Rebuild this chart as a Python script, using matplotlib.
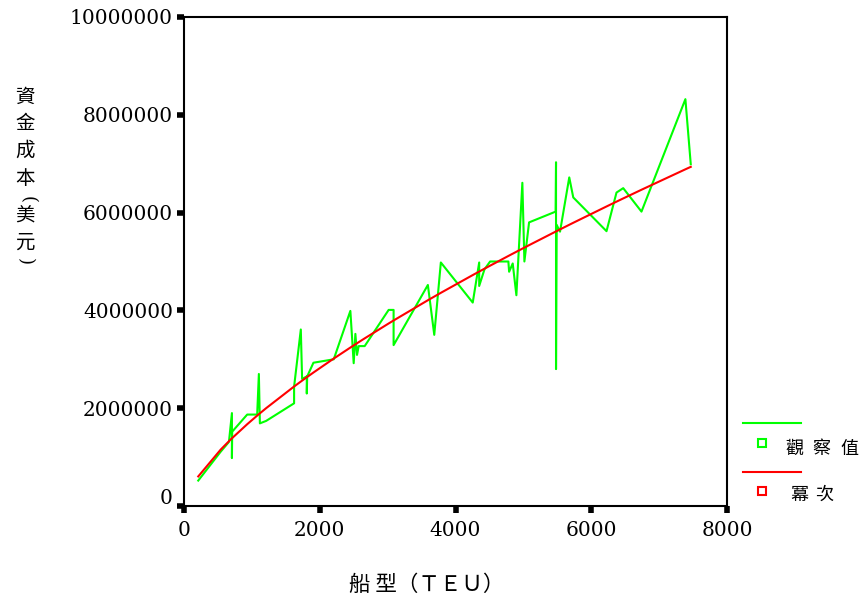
import numpy as np
import matplotlib
matplotlib.use("Agg")
import matplotlib.pyplot as plt
from matplotlib.lines import Line2D
from matplotlib.transforms import ScaledTranslation

TEU = [210, 540, 662, 706, 706, 710, 931, 1078, 1103, 1118, 1210, 1622, 1622,
       1721, 1740, 1809, 1809, 1815, 1907, 2206, 2451, 2500, 2525, 2549, 2574,
       2662, 3015, 3088, 3088, 3593, 3687, 3784, 4254, 4349, 4349, 4427, 4510,
       4779, 4790, 4843, 4897, 4985, 5015, 5084, 5475, 5481, 5481, 5490, 5540,
       5676, 5735, 6225, 6372, 6471, 6740, 7387, 7466]
COST = [520000, 1110000, 1310000, 1900000, 980000, 1520000, 1870000, 1870000,
        2700000, 1690000, 1740000, 2100000, 2440000, 3610000, 2600000, 2650000,
        2300000, 2650000, 2930000, 3000000, 3990000, 2920000, 3520000, 3090000,
        3270000, 3270000, 4010000, 4010000, 3290000, 4520000, 3500000, 4980000,
        4160000, 4980000, 4500000, 4840000, 5000000, 5000000, 4790000, 4960000,
        4310000, 6610000, 5000000, 5800000, 6020000, 7030000, 2800000, 5750000,
        5610000, 6720000, 6310000, 5620000, 6410000, 6500000, 6020000, 8320000,
        6990000]

X_TICKS = [0, 2000, 4000, 6000, 8000]
Y_TICKS = [0, 2000000, 4000000, 6000000, 8000000, 10000000]
Y_LABELS = ["0", "2000000", "4000000", "6000000", "8000000", "10000000"]

CJK = ["Noto Sans CJK TC", "DejaVu Sans"]
NUM = "DejaVu Serif"
GREEN = "#00FF00"
RED = "#FF0000"

x = np.array(TEU, dtype=float)
y = np.array(COST, dtype=float)
# power model fit (ln y = ln a + b ln x)
b, ln_a = np.polyfit(np.log(x), np.log(y), 1)
fit = np.exp(ln_a) * x ** b

W, H = 861, 605
fig = plt.figure(figsize=(W / 100, H / 100), dpi=100)
fig.patch.set_facecolor("white")
ax = fig.add_axes([184 / W, 99 / H, 543 / W, 489 / H])

ax.plot(x, y, color=GREEN, lw=1.5, zorder=3)
ax.plot(x, fit, color=RED, lw=1.5, zorder=4)

ax.set_xlim(0, 8000)
ax.set_ylim(0, 10000000)
ax.set_xticks(X_TICKS)
ax.set_xticklabels([str(t) for t in X_TICKS], fontfamily=NUM, fontsize=14.5)
ax.set_yticks(Y_TICKS)
ax.set_yticklabels(Y_LABELS, fontfamily=NUM, fontsize=14.5)
ax.tick_params(axis="both", direction="out", length=5, width=4, color="black")
ax.tick_params(axis="x", pad=6)
ax.tick_params(axis="y", pad=3)
for s in ax.spines.values():
    s.set_linewidth(1.5)
    s.set_color("black")

# the "0" on the y axis sits a little above its tick in the original
lab0 = ax.get_yticklabels()[0]
lab0.set_transform(lab0.get_transform()
                   + ScaledTranslation(0, 9 / 100, fig.dpi_scale_trans))

# stacked vertical y label
ychars = ["資", "金", "成", "本", "美", "元"]
ypos = [97, 123, 150, 178, 216, 242]
for ch, py in zip(ychars, ypos):
    fig.text(25 / W, 1 - py / H, ch, ha="center", va="center",
             fontsize=14, family=CJK)
# rotated brackets (vertical text style)
fig.text(28 / W, 1 - 199 / H, "(", ha="center", va="center",
         fontsize=13, family=NUM, rotation=-90)
fig.text(25 / W, 1 - 262 / H, ")", ha="center", va="center",
         fontsize=13, family=NUM, rotation=-90)

fig.text(427 / W, 1 - 585 / H, "船 型（ＴＥＵ）", ha="center", va="center",
         fontsize=15.5, family=CJK)

# SPSS-style legend: line sample above a square marker and label
def legend_entry(color, line_y, mark_y, chars, xs, text_y):
    fig.add_artist(Line2D([743 / W, 801 / W], [1 - line_y / H] * 2,
                          color=color, lw=1.5, transform=fig.transFigure))
    fig.add_artist(Line2D([762 / W], [1 - mark_y / H], marker="s",
                          markersize=6, markerfacecolor="white",
                          markeredgecolor=color, markeredgewidth=1.5,
                          linestyle="none", transform=fig.transFigure))
    for ch, px in zip(chars, xs):
        fig.text(px / W, 1 - text_y / H, ch, ha="center", va="center",
                 fontsize=13, family=CJK)

legend_entry(GREEN, 423, 443, ["觀", "察", "值"], [794, 821, 849], 449)
legend_entry(RED, 472, 491, ["冪", "次"], [799, 824], 495)

fig.savefig("out.png", dpi=100, facecolor="white")
